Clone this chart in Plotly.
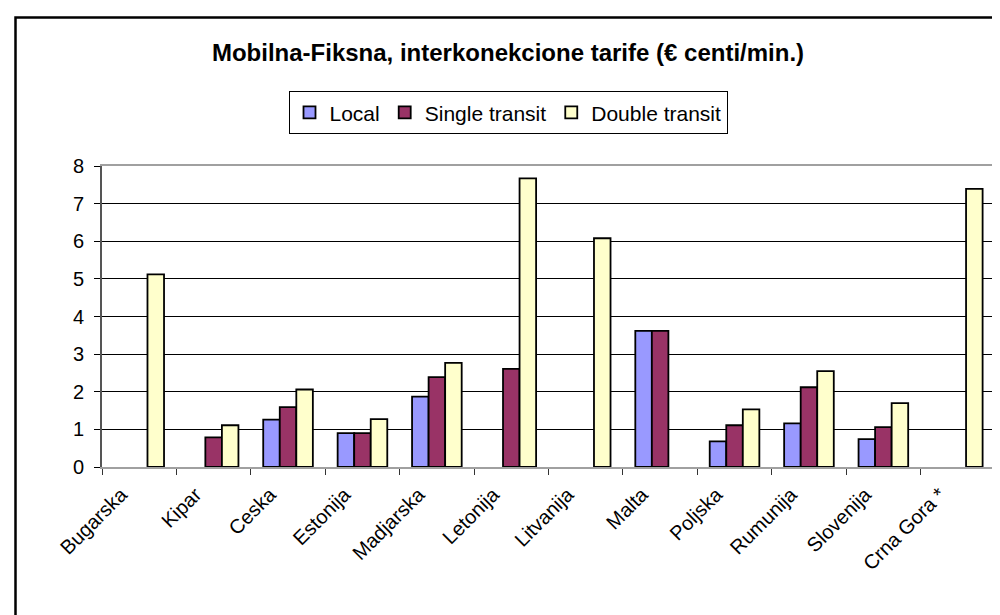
import plotly.graph_objects as go

# countries and tariffs (euro cents / min)
countries = ["Bugarska", "Kipar", "Ceska", "Estonija", "Madjarska", "Letonija",
             "Litvanija", "Malta", "Poljska", "Rumunija", "Slovenija", "Crna Gora *"]
local = [None, None, 1.26, 0.90, 1.87, None, None, 3.62, 0.68, 1.16, 0.74, None]
single_transit = [None, 0.79, 1.59, 0.90, 2.39, 2.61, None, 3.62, 1.11, 2.12, 1.06, None]
double_transit = [5.12, 1.11, 2.06, 1.27, 2.77, 7.67, 6.08, None, 1.53, 2.55, 1.70, 7.39]

font_family = "Liberation Sans, Arial, sans-serif"

fig = go.Figure()
fig.add_trace(go.Bar(x=countries, y=local, name="Local",
                     marker=dict(color="#9999FF", line=dict(color="black", width=1.8))))
fig.add_trace(go.Bar(x=countries, y=single_transit, name="Single transit",
                     marker=dict(color="#993366", line=dict(color="black", width=1.8))))
fig.add_trace(go.Bar(x=countries, y=double_transit, name="Double transit",
                     marker=dict(color="#FFFFCC", line=dict(color="black", width=1.8))))

fig.update_layout(
    width=1000, height=615,
    margin=dict(l=94, r=13, t=158, b=156),
    paper_bgcolor="white", plot_bgcolor="white",
    font=dict(family=font_family, color="black", size=20),
    barmode="group", bargap=0.333, bargroupgap=0,
    title=dict(text="<b>Mobilna-Fiksna, interkonekcione tarife (€ centi/min.)</b>",
               x=0.5, xanchor="center", y=1 - 45 / 615, yanchor="middle",
               font=dict(size=24, family=font_family, color="black")),
    legend=dict(orientation="h", x=(500 - 94) / 893, xanchor="center",
                y=(459 - 106) / 300, yanchor="middle",
                bordercolor="black", borderwidth=1, bgcolor="white",
                font=dict(size=21), itemwidth=30, traceorder="normal"),
    showlegend=True,
)

fig.update_xaxes(
    showline=True, linecolor="#a0a0a0", linewidth=2, mirror=True,
    ticks="outside", tickson="boundaries", ticklen=6, tickcolor="#333",
    tickangle=-45, tickfont=dict(size=20), ticklabelshift=-18, ticklabelstandoff=6,
    showgrid=False, automargin=False,
)
fig.update_yaxes(
    range=[0, 8], dtick=1, showgrid=True, gridcolor="black", gridwidth=1,
    zeroline=False, showline=True, linecolor="#555", linewidth=2,
    ticks="outside", ticklen=6, tickcolor="black", ticklabelstandoff=6,
    tickfont=dict(size=20), automargin=False,
)

# right border of the plot area
fig.add_shape(type="line", xref="paper", yref="paper", x0=1, x1=1, y0=0, y1=1,
              line=dict(color="#a0a0a0", width=2))
# outer chart frame (cut off on the right and bottom)
fig.add_shape(type="rect", xref="paper", yref="paper",
              x0=(7.5 - 94) / 893, x1=1.04, y0=-0.6, y1=(459 - 11) / 300,
              line=dict(color="black", width=2.5))

fig.write_html("out.html")
